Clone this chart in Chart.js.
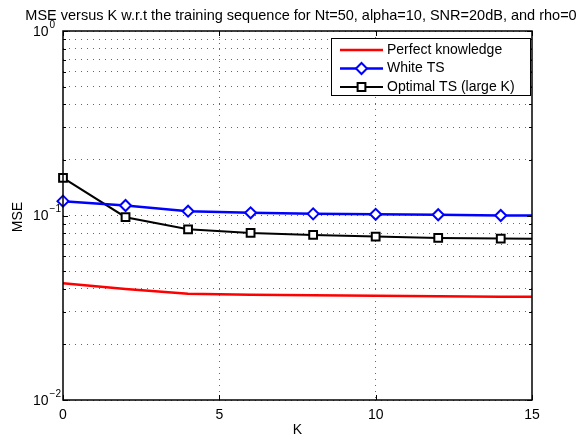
<!DOCTYPE html>
<html>
<head>
<meta charset="utf-8">
<script src="https://cdn.jsdelivr.net/npm/chart.js@4.4.1/dist/chart.umd.min.js"></script>
<style>
  html, body { margin: 0; padding: 0; background: #fff; }
</style>
</head>
<body>
<canvas id="mseChart" width="588" height="437"></canvas>
<script>
// values
const kValues = [0, 2, 4, 6, 8, 10, 12, 14, 15];
const perfectMSE = [0.0429, 0.0400, 0.0377, 0.0372, 0.0370, 0.0367, 0.0365, 0.0363, 0.0363];
const whiteMSE = [0.1196, 0.1133, 0.1055, 0.1034, 0.1021, 0.1015, 0.1009, 0.1000, 0.1000];
const optimalMSE = [0.160, 0.0979, 0.0842, 0.0805, 0.0785, 0.0769, 0.0756, 0.0750, 0.0747];
const seriesNames = ['Perfect knowledge', 'White TS', 'Optimal TS (large K)'];
const xTicks = [0, 5, 10, 15];
const yTicks = [0.01, 0.02, 0.03, 0.04, 0.05, 0.06, 0.07, 0.08, 0.09,
                0.1, 0.2, 0.3, 0.4, 0.5, 0.6, 0.7, 0.8, 0.9, 1];
const yDecades = [1, 0.1, 0.01];
const yDecadeExp = ['0', '\u22121', '\u22122'];
const titleText = 'MSE versus K w.r.t the training sequence for Nt=50, alpha=10, SNR=20dB, and rho=0';

const FONT = '"Liberation Sans", Arial, Helvetica, sans-serif';

function toPoints(ys) {
    return kValues.map((k, i) => ({ x: k, y: ys[i] }));
}

// markers on every plotted K except the last (K=15) end point
const markerRadius = (r) => (ctx) => ctx.dataIndex === kValues.length - 1 ? 0 : r;

const matlabAxes = {
    id: 'matlabAxes',
    afterDatasetsDraw(chart) {
        const { ctx, chartArea: a, scales } = chart;
        const xs = scales.x, ys = scales.y;
        ctx.save();
        // tick marks inside the box
        ctx.strokeStyle = '#000';
        ctx.lineWidth = 1;
        ctx.beginPath();
        xTicks.forEach(v => {
            const px = Math.round(xs.getPixelForValue(v)) + 0.5;
            ctx.moveTo(px, a.bottom); ctx.lineTo(px, a.bottom - 5);
            ctx.moveTo(px, a.top); ctx.lineTo(px, a.top + 5);
        });
        yTicks.forEach(v => {
            const py = Math.round(ys.getPixelForValue(v)) + 0.5;
            const len = yDecades.includes(v) ? 5 : 3;
            ctx.moveTo(a.left, py); ctx.lineTo(a.left + len, py);
            ctx.moveTo(a.right, py); ctx.lineTo(a.right - len, py);
        });
        ctx.stroke();
        // box
        ctx.lineWidth = 1.5;
        ctx.strokeRect(a.left, a.top, a.right - a.left, a.bottom - a.top);

        // y tick labels 10^n
        ctx.fillStyle = '#000';
        ctx.textBaseline = 'middle';
        ctx.textAlign = 'left';
        yDecades.forEach((v, i) => {
            const py = ys.getPixelForValue(v);
            ctx.font = '14px ' + FONT;
            ctx.fillText('10', 33, py + 1);
            const w = ctx.measureText('10').width;
            ctx.font = '10px ' + FONT;
            ctx.fillText(yDecadeExp[i], 33 + w + 1, py - 6);
        });

        // axis titles and title
        ctx.font = '14px ' + FONT;
        ctx.textAlign = 'center';
        ctx.fillText('K', (a.left + a.right) / 2, 430);
        ctx.font = '14.5px ' + FONT;
        ctx.fillText(titleText, 301, 16);
        ctx.font = '14px ' + FONT;
        ctx.save();
        ctx.translate(18, 217);
        ctx.rotate(-Math.PI / 2);
        ctx.fillText('MSE', 0, 0);
        ctx.restore();

        // legend box
        const lx = 331, ly = 38, lw = 199, lh = 57;
        ctx.fillStyle = '#fff';
        ctx.fillRect(lx, ly, lw, lh);
        ctx.lineWidth = 1;
        ctx.strokeStyle = '#000';
        ctx.strokeRect(lx + 0.5, ly + 0.5, lw, lh);
        chart.data.datasets.forEach((ds, i) => {
            const y = ly + 12 + i * 18.5;
            ctx.strokeStyle = ds.borderColor;
            ctx.lineWidth = ds.borderWidth;
            ctx.beginPath();
            ctx.moveTo(340, y); ctx.lineTo(383, y);
            ctx.stroke();
            if (ds.pointStyle) {
                ctx.fillStyle = ds.pointBackgroundColor;
                ctx.strokeStyle = ds.pointBorderColor;
                ctx.lineWidth = ds.pointBorderWidth;
                Chart.helpers.drawPoint(ctx, {
                    pointStyle: ds.pointStyle,
                    radius: ds.legendRadius,
                    borderWidth: ds.pointBorderWidth
                }, 361.5, y);
            }
            ctx.fillStyle = '#000';
            ctx.textAlign = 'left';
            ctx.font = '14px ' + FONT;
            ctx.fillText(ds.label, 387, y);
        });
        ctx.restore();
    }
};

new Chart(document.getElementById('mseChart'), {
    type: 'line',
    data: {
        datasets: [
            {
                label: seriesNames[0],
                data: toPoints(perfectMSE),
                borderColor: '#ff0000',
                borderWidth: 2.5,
                pointRadius: 0,
                pointStyle: false
            },
            {
                label: seriesNames[1],
                data: toPoints(whiteMSE),
                borderColor: '#0000ff',
                borderWidth: 2.5,
                pointStyle: 'rectRot',
                pointRadius: markerRadius(5.5),
                legendRadius: 5.5,
                pointBorderWidth: 2,
                pointBorderColor: '#0000ff',
                pointBackgroundColor: '#ffffff'
            },
            {
                label: seriesNames[2],
                data: toPoints(optimalMSE),
                borderColor: '#000000',
                borderWidth: 2,
                pointStyle: 'rect',
                pointRadius: markerRadius(5.5),
                legendRadius: 5.5,
                pointBorderWidth: 2,
                pointBorderColor: '#000000',
                pointBackgroundColor: '#ffffff'
            }
        ]
    },
    options: {
        responsive: false,
        animation: false,
        clip: false,
        layout: { padding: { left: 0, top: 31, right: 56, bottom: 0 } },
        plugins: {
            legend: { display: false },
            title: { display: false },
            tooltip: { enabled: false }
        },
        elements: { line: { tension: 0 } },
        scales: {
            x: {
                type: 'linear',
                min: 0,
                max: 15,
                afterBuildTicks: (scale) => { scale.ticks = xTicks.map(v => ({ value: v })); },
                afterFit: (scale) => { scale.height = 37; },
                border: { display: false, dash: [1, 5] },
                grid: {
                    color: 'rgba(0,0,0,0.6)',
                    lineWidth: (c) => (c.tick && (c.tick.value === 0 || c.tick.value === 15)) ? 0 : 1,
                    drawTicks: false
                },
                ticks: {
                    color: '#000',
                    padding: 7,
                    maxRotation: 0,
                    font: { family: FONT, size: 14 }
                }
            },
            y: {
                type: 'logarithmic',
                min: 0.01,
                max: 1,
                afterBuildTicks: (scale) => { scale.ticks = yTicks.map(v => ({ value: v })); },
                afterFit: (scale) => { scale.width = 63; },
                border: { display: false, dash: [1, 5] },
                grid: {
                    color: 'rgba(0,0,0,0.6)',
                    drawTicks: false
                },
                ticks: { display: false }
            }
        }
    },
    plugins: [matlabAxes]
});
</script>
</body>
</html>
